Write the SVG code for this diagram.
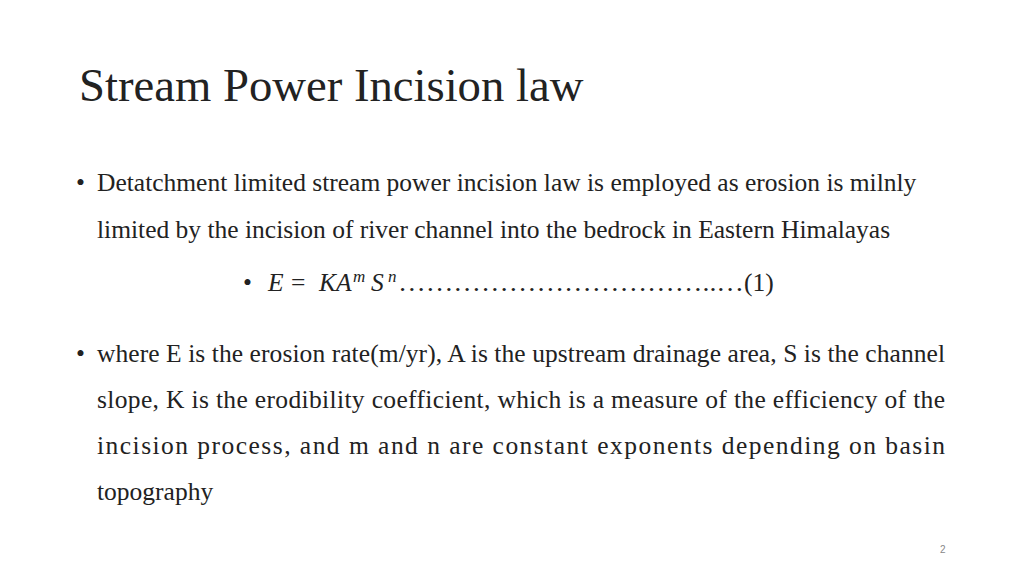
<svg xmlns="http://www.w3.org/2000/svg" width="1024" height="576" viewBox="0 0 1024 576">
<style>
text{font-family:"Liberation Serif",serif;fill:#222}
.b{font-size:25.5px}
.m{font-style:italic}
</style>
<rect width="1024" height="576" fill="#fff"/>
<text x="79" y="101" font-size="46.7px">Stream Power Incision law</text>
<text class="b" x="76" y="191">•</text>
<text class="b" x="97" y="191">Detatchment limited stream power incision law is employed as erosion is milnly</text>
<text class="b" x="97" y="238">limited by the incision of river channel into the bedrock in  Eastern Himalayas</text>
<text class="b" x="243" y="291">•</text>
<text class="b" y="291"><tspan class="m" x="268">E</tspan><tspan x="291">=</tspan><tspan class="m" x="319">K</tspan><tspan class="m" x="336">A</tspan><tspan class="m" font-size="17" x="353" y="282">m</tspan><tspan class="m" x="371" y="291">S</tspan><tspan class="m" font-size="17" x="388" y="282">n</tspan><tspan y="291" x="398" textLength="346" lengthAdjust="spacingAndGlyphs">……………………………..…</tspan><tspan x="744">(1)</tspan></text>
<text class="b" x="76" y="362">•</text>
<text class="b" x="97" y="362" textLength="848" lengthAdjust="spacing">where E is the erosion rate(m/yr), A is the upstream drainage area, S is the channel</text>
<text class="b" x="97" y="408" textLength="848" lengthAdjust="spacing">slope, K is the erodibility coefficient, which is a measure of the efficiency of the</text>
<text class="b" x="97" y="454" textLength="848" lengthAdjust="spacing">incision process, and m and n are constant exponents depending on basin</text>
<text class="b" x="97" y="500">topography</text>
<text x="940" y="553" font-size="10" style="font-family:'Liberation Sans',sans-serif;fill:#888">2</text>
</svg>
